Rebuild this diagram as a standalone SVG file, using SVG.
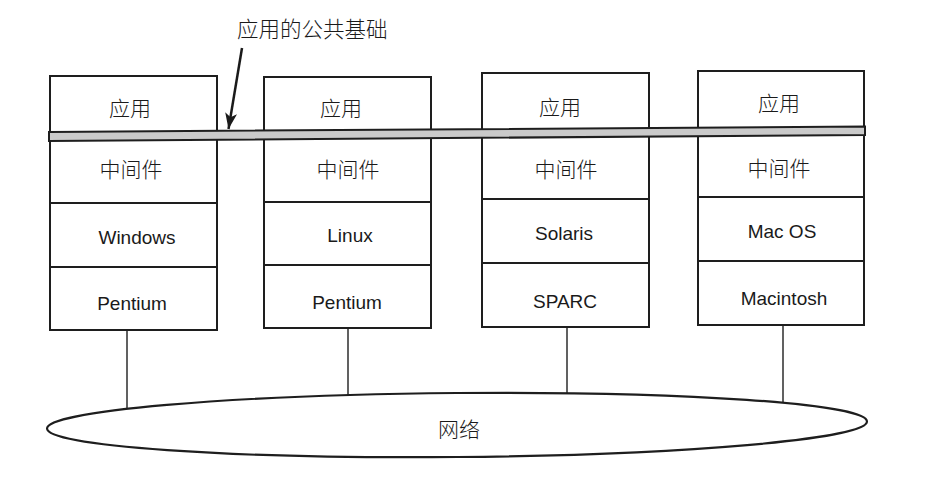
<svg xmlns="http://www.w3.org/2000/svg" width="929" height="483" viewBox="0 0 929 483">
<style>
.box{fill:#fff;stroke:#1e1e1e;stroke-width:2}
.row{stroke:#1e1e1e;stroke-width:2}
.conn{stroke:#1e1e1e;stroke-width:1.4}
.cjk{font-family:"Noto Sans CJK SC","Noto Sans",sans-serif;font-weight:300;font-size:21px;fill:#1a1a1a;text-anchor:middle}
.lat{font-family:"Liberation Sans",Arial,sans-serif;font-size:19px;fill:#1a1a1a;text-anchor:middle}
</style>
<defs>
<marker id="ah" markerUnits="userSpaceOnUse" markerWidth="20" markerHeight="20" refX="16" refY="6" orient="auto">
<path d="M0,0 L16,6 L0,12 L4,6 Z" fill="#1a1a1a"/>
</marker>
</defs>
<rect width="929" height="483" fill="#fff"/>

<g id="connectors">
<line class="conn" x1="127" y1="330" x2="127" y2="415"/>
<line class="conn" x1="348" y1="328" x2="348" y2="400"/>
<line class="conn" x1="567" y1="327" x2="567" y2="400"/>
<line class="conn" x1="783" y1="325" x2="783" y2="410"/>
<line x1="242" y1="48" x2="228.5" y2="129" stroke="#1a1a1a" stroke-width="2.5" marker-end="url(#ah)"/>
</g>

<g id="network">
<ellipse cx="457" cy="425" rx="410" ry="32" transform="rotate(-0.5 457 425)" fill="#fff" stroke="#1e1e1e" stroke-width="2.2"/>
<text class="cjk" x="459" y="437">网络</text>
</g>

<g id="title">
<text x="237" y="37" style="font-family:'Noto Sans CJK SC','Noto Sans',sans-serif;font-weight:300;font-size:21.5px;fill:#1a1a1a">应用的公共基础</text>
</g>

<g id="node-windows">
<rect class="box" x="50" y="76" width="167" height="254"/>
<line class="row" x1="50" y1="203" x2="217" y2="203"/>
<line class="row" x1="50" y1="267" x2="217" y2="267"/>
<text class="cjk" x="130" y="116">应用</text>
<text class="cjk" x="131" y="177">中间件</text>
<text class="lat" x="137" y="244">Windows</text>
<text class="lat" x="132" y="310">Pentium</text>
</g>

<g id="node-linux">
<rect class="box" x="264" y="77" width="167" height="251"/>
<line class="row" x1="264" y1="202" x2="431" y2="202"/>
<line class="row" x1="264" y1="265" x2="431" y2="265"/>
<text class="cjk" x="341" y="116">应用</text>
<text class="cjk" x="348" y="177">中间件</text>
<text class="lat" x="350" y="242">Linux</text>
<text class="lat" x="347" y="309">Pentium</text>
</g>

<g id="node-solaris">
<rect class="box" x="482" y="73" width="167" height="254"/>
<line class="row" x1="482" y1="199" x2="649" y2="199"/>
<line class="row" x1="482" y1="263" x2="649" y2="263"/>
<text class="cjk" x="560" y="115">应用</text>
<text class="cjk" x="566" y="177">中间件</text>
<text class="lat" x="564" y="240">Solaris</text>
<text class="lat" x="565" y="308">SPARC</text>
</g>

<g id="node-mac">
<rect class="box" x="698" y="71" width="166" height="254"/>
<line class="row" x1="698" y1="197" x2="864" y2="197"/>
<line class="row" x1="698" y1="261" x2="864" y2="261"/>
<text class="cjk" x="779" y="111">应用</text>
<text class="cjk" x="779" y="176">中间件</text>
<text class="lat" x="782" y="238">Mac OS</text>
<text class="lat" x="784" y="305">Macintosh</text>
</g>

<g id="common-base">
<polygon points="49,132 865,126.5 865,135 49,141" fill="#cacaca" stroke="#1e1e1e" stroke-width="2"/>
</g>
</svg>
